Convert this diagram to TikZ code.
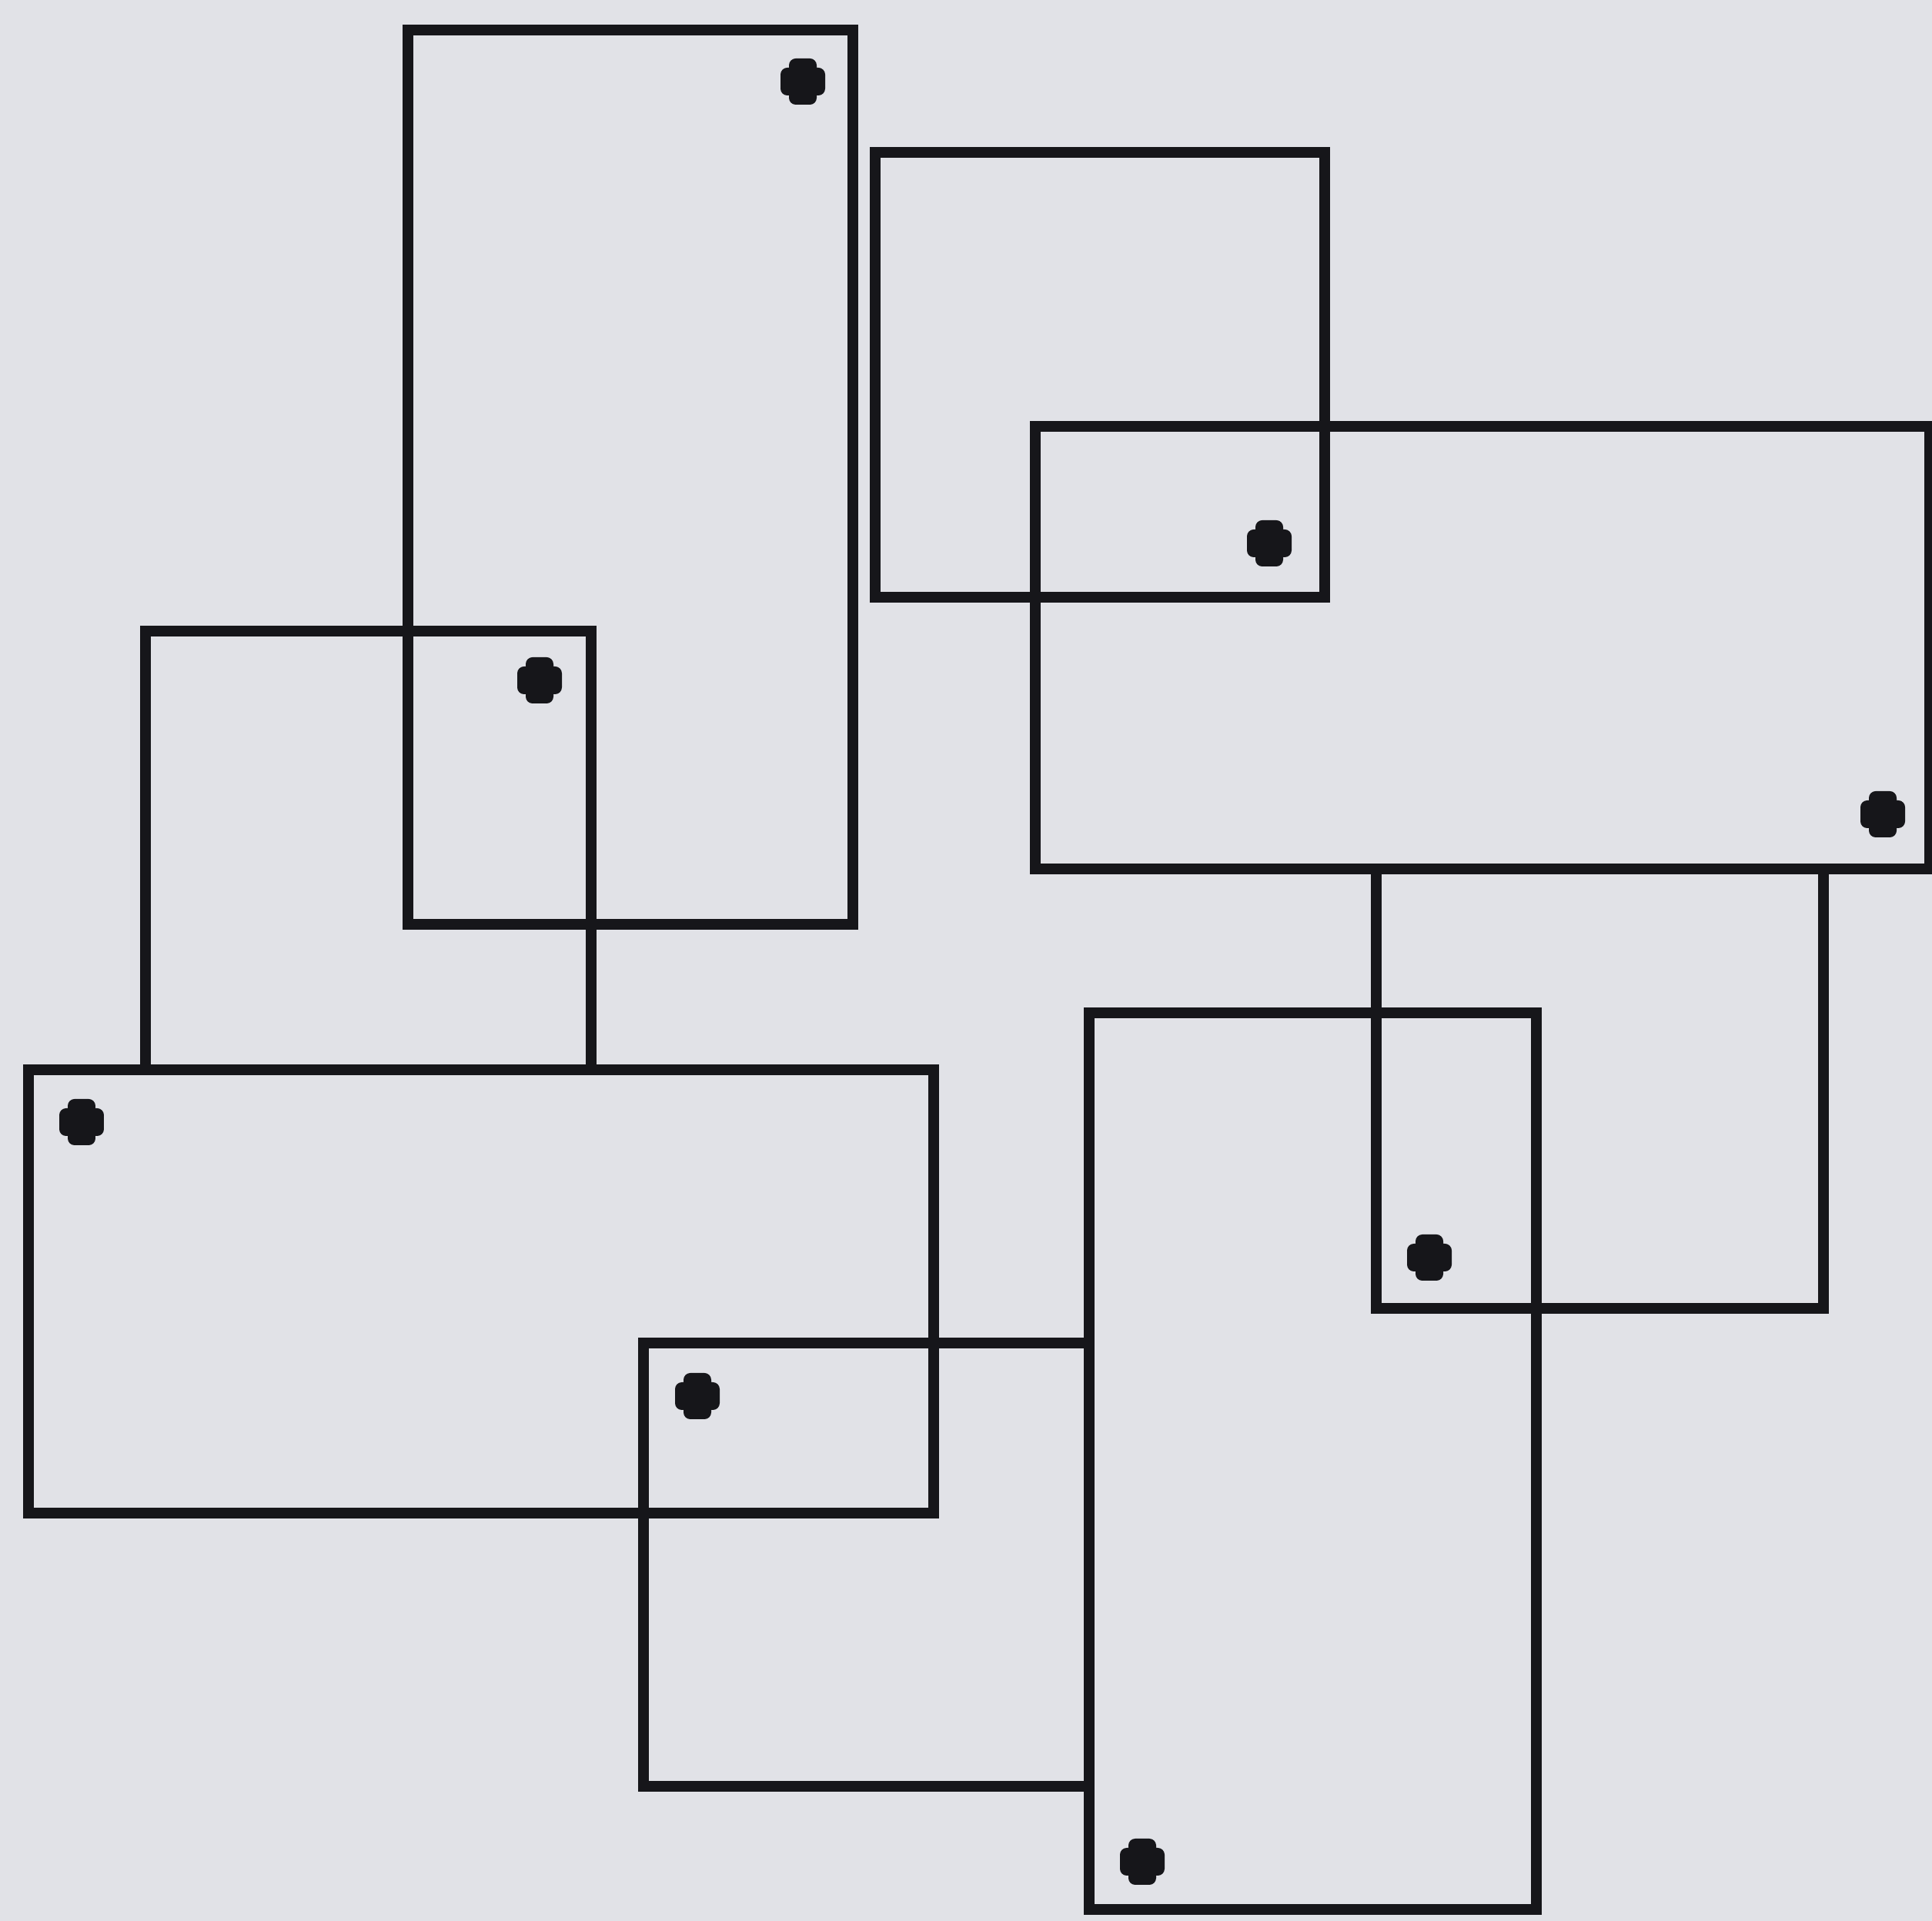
\documentclass[tikz,border=0pt]{standalone}
\usepackage{tikz}
\definecolor{paper}{RGB}{225,226,231}
\definecolor{ink}{RGB}{22,22,26}
\tikzset{frame/.style={draw=ink,line width=4.1pt},
  blob/.style={fill=ink,rounded corners=2.5pt}}

\begin{document}
\begin{tikzpicture}
\fill[paper] (0,0) rectangle (25.10,24.96);
\useasboundingbox (0,0) rectangle (25.10,24.96);
\draw[frame] (5.30,12.95) rectangle (11.08,24.57);
\draw[frame] (11.37,17.20) rectangle (17.21,22.98);
\draw[frame] (13.45,13.67) rectangle (25.07,19.42);
\draw[frame] (1.89,11.06) rectangle (7.68,16.76);
\draw[frame] (0.37,5.30) rectangle (12.13,11.06);
\draw[frame] (8.36,1.75) rectangle (14.15,7.51);
\draw[frame] (14.15,0.15) rectangle (19.96,11.80);
\draw[frame] (17.88,7.96) rectangle (23.69,13.67);
\foreach \p in {(10.43,23.90),(16.49,17.90),(24.46,14.38),(7.01,16.12),
  (1.06,10.38),(9.06,6.82),(14.84,0.77),(18.57,8.62)}
  \fill[blob] \p +(-0.29,-0.18) rectangle +(0.29,0.18) \p +(-0.18,-0.30) rectangle +(0.18,0.30);
\end{tikzpicture}
\end{document}
